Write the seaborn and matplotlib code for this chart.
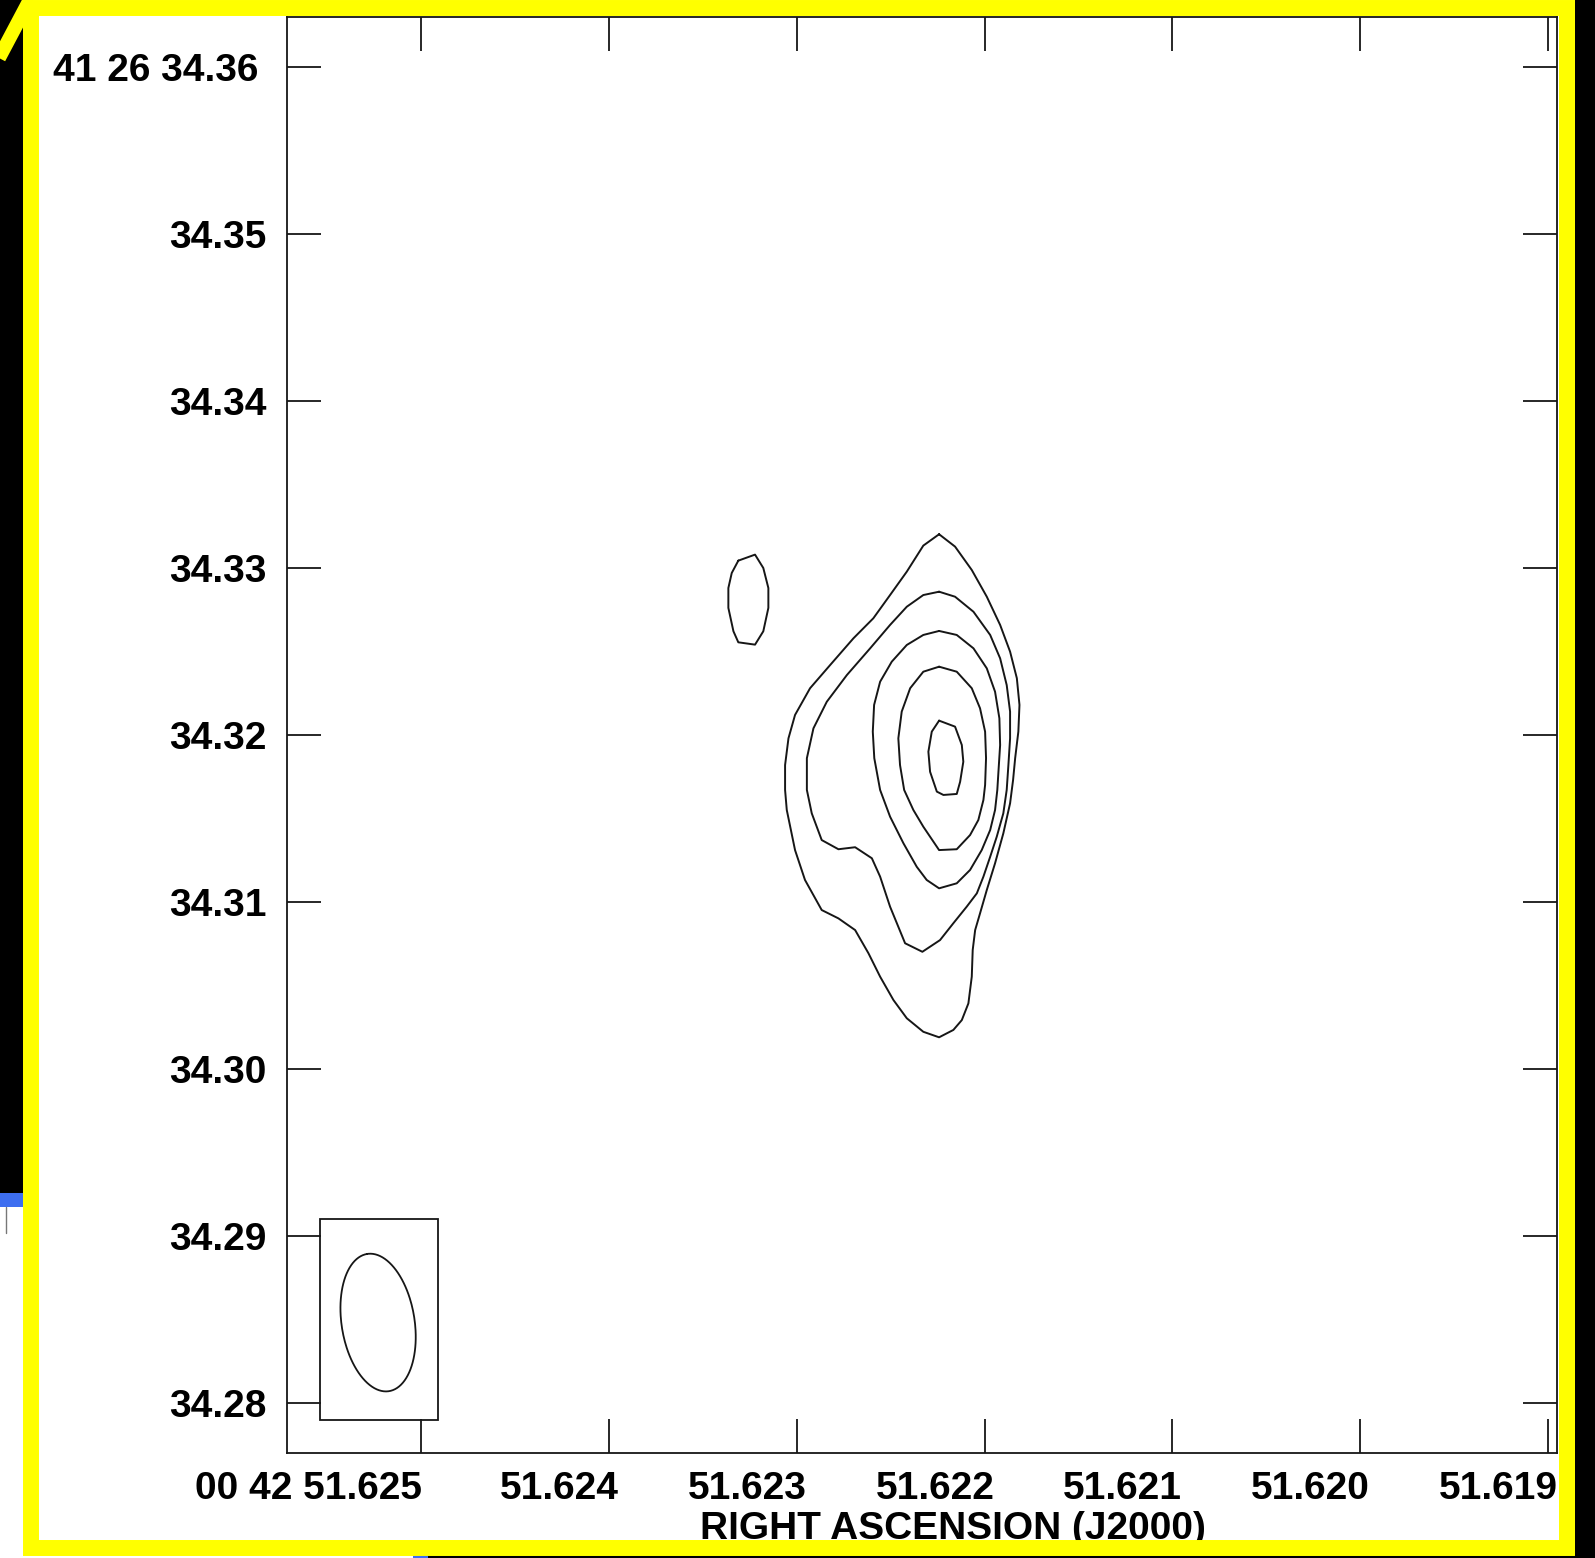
import numpy as np
import pandas as pd
import seaborn as sns
import matplotlib.pyplot as plt
from matplotlib.patches import Rectangle
from matplotlib.transforms import ScaledTranslation

# contour vertices
# RA in seconds of 00h42m, Dec in arcsec of +41d26m
knot_ra = [51.623311, 51.623222, 51.623178, 51.623151, 51.623151, 51.623178,
           51.623222, 51.623311, 51.623337, 51.623364, 51.623364, 51.623346]
knot_dec = [34.33044, 34.33080, 34.33000, 34.32880, 34.32761, 34.32621,
            34.32541, 34.32555, 34.32621, 34.32761, 34.32880, 34.32970]

lev1_ra = [51.622242, 51.622326, 51.622414, 51.622503, 51.622592, 51.622698,
           51.622822, 51.622929, 51.623009, 51.623044, 51.623062, 51.623062,
           51.623053, 51.623009, 51.622956, 51.622867, 51.622778, 51.622689,
           51.622618, 51.622556, 51.622485, 51.622414, 51.622326, 51.622242,
           51.622166, 51.622121, 51.622086, 51.622068, 51.622063, 51.622050,
           51.622024, 51.621988, 51.621944, 51.621900, 51.621864, 51.621848,
           51.621837, 51.621820, 51.621814, 51.621828, 51.621864, 51.621917,
           51.621988, 51.622068, 51.622157]
lev1_dec = [34.33202, 34.33134, 34.32978, 34.32838, 34.32699, 34.32579,
            34.32419, 34.32280, 34.32120, 34.31980, 34.31820, 34.31671,
            34.31551, 34.31311, 34.31132, 34.30952, 34.30902, 34.30832,
            34.30693, 34.30553, 34.30413, 34.30304, 34.30223, 34.30190,
            34.30234, 34.30293, 34.30393, 34.30553, 34.30713, 34.30832,
            34.30932, 34.31072, 34.31232, 34.31411, 34.31591, 34.31731,
            34.31861, 34.32020, 34.32180, 34.32340, 34.32499, 34.32659,
            34.32828, 34.32988, 34.33128]

lev2_ra = [51.622242, 51.622326, 51.622414, 51.622503, 51.622609, 51.622733,
           51.622840, 51.622911, 51.622946, 51.622946, 51.622920, 51.622867,
           51.622778, 51.622689, 51.622600, 51.622556, 51.622503, 51.622423,
           51.622331, 51.622237, 51.622166, 51.622095, 51.622041, 51.622006,
           51.621970, 51.621935, 51.621900, 51.621882, 51.621873, 51.621864,
           51.621864, 51.621882, 51.621917, 51.621970, 51.622059, 51.622157]
lev2_dec = [34.32858, 34.32838, 34.32768, 34.32659, 34.32519, 34.32359,
            34.32199, 34.32040, 34.31861, 34.31671, 34.31531, 34.31371,
            34.31316, 34.31328, 34.31262, 34.31152, 34.30972, 34.30753,
            34.30702, 34.30772, 34.30873, 34.30972, 34.31052, 34.31152,
            34.31271, 34.31391, 34.31531, 34.31671, 34.31820, 34.31980,
            34.32140, 34.32299, 34.32459, 34.32599, 34.32738, 34.32828]

lev3_ra = [51.622242, 51.622326, 51.622414, 51.622494, 51.622556, 51.622588,
           51.622595, 51.622587, 51.622556, 51.622503, 51.622432, 51.622361,
           51.622308, 51.622242, 51.622148, 51.622077, 51.622015, 51.621970,
           51.621944, 51.621932, 51.621926, 51.621917, 51.621921, 51.621944,
           51.621988, 51.622059, 51.622148]
lev3_dec = [34.32623, 34.32599, 34.32539, 34.32439, 34.32319, 34.32180,
            34.32020, 34.31861, 34.31671, 34.31511, 34.31352, 34.31211,
            34.31132, 34.31082, 34.31112, 34.31192, 34.31311, 34.31431,
            34.31551, 34.31671, 34.31780, 34.31940, 34.32100, 34.32259,
            34.32399, 34.32519, 34.32599]

lev4_ra = [51.622242, 51.622326, 51.622396, 51.622441, 51.622459, 51.622450,
           51.622428, 51.622379, 51.622326, 51.622242, 51.622148, 51.622077,
           51.622033, 51.622006, 51.621997, 51.621992, 51.621997, 51.622024,
           51.622068, 51.622148]
lev4_dec = [34.32409, 34.32379, 34.32280, 34.32140, 34.31980, 34.31820,
            34.31671, 34.31551, 34.31451, 34.31311, 34.31316, 34.31401,
            34.31491, 34.31611, 34.31701, 34.31861, 34.32020, 34.32160,
            34.32280, 34.32379]

lev5_ra = [51.622242, 51.622157, 51.622121, 51.622113, 51.622130, 51.622148,
           51.622219, 51.622254, 51.622290, 51.622299, 51.622281]
lev5_dec = [34.32086, 34.32050, 34.31940, 34.31840, 34.31720, 34.31647,
            34.31641, 34.31661, 34.31780, 34.31900, 34.32020]

ra_ticks = [51.625, 51.624, 51.623, 51.622, 51.621, 51.620, 51.619]
ra_labels = ["00 42 51.625", "51.624", "51.623", "51.622", "51.621", "51.620", "51.619"]
dec_ticks = [34.28, 34.29, 34.30, 34.31, 34.32, 34.33, 34.34, 34.35, 34.36]
dec_labels = ["34.28", "34.29", "34.30", "34.31", "34.32", "34.33", "34.34", "34.35", "41 26 34.36"]

# restoring beam (arcsec, arcsec, deg) and its box
beam_ra, beam_dec = 51.625229, 34.28482
beam_bmaj, beam_bmin, beam_pa = 0.00832, 0.00437, 9.0
box_ra = [51.625538, 51.624910]
box_dec = [34.27898, 34.29102]

contours = {
    "knot": (knot_ra, knot_dec),
    "lev1": (lev1_ra, lev1_dec),
    "lev2": (lev2_ra, lev2_dec),
    "lev3": (lev3_ra, lev3_dec),
    "lev4": (lev4_ra, lev4_dec),
    "lev5": (lev5_ra, lev5_dec),
}
frames = []
for name, (ra, dec) in contours.items():
    frames.append(pd.DataFrame({"ra": ra + ra[:1], "dec": dec + dec[:1], "contour": name}))
df = pd.concat(frames, ignore_index=True)

sns.set_theme(style="white")
plt.rcParams["font.family"] = ["Liberation Sans", "DejaVu Sans"]
plt.rcParams["font.weight"] = "bold"

W, H = 1595, 1558
fig = plt.figure(figsize=(W / 100, H / 100), dpi=100, facecolor="black")

# screenshot backdrop, in pixels
bg = fig.add_axes([0, 0, 1, 1], zorder=0)
bg.set_xlim(0, W)
bg.set_ylim(H, 0)
bg.axis("off")
bg.add_patch(Rectangle((23, 0), 1552, 1555, fc="white", ec="none"))
bg.add_patch(Rectangle((0, 1207), 23, 351, fc="white", ec="none"))
bg.add_patch(Rectangle((0, 1555), 413, 3, fc="white", ec="none"))
bg.add_patch(Rectangle((0, 1193), 23, 14, fc="#3d6ef0", ec="none"))
bg.add_patch(Rectangle((413, 1555), 15, 3, fc="#3d6ef0", ec="none"))
bg.plot([6, 6], [1207, 1233], color="#777777", lw=1)

ax = fig.add_axes([287 / W, 1 - 1453 / H, 1270 / W, 1436 / H], zorder=1)
ax.set_facecolor("white")

line_col = "#161616"
sns.lineplot(data=df, x="ra", y="dec", units="contour", estimator=None, sort=False,
             color=line_col, linewidth=1.4, ax=ax)

# beam ellipse + box
t = np.linspace(0, 2 * np.pi, 200)
pa = np.deg2rad(beam_pa)
u = beam_bmaj / 2 * np.cos(t)
v = beam_bmin / 2 * np.sin(t)
east = u * np.sin(pa) + v * np.cos(pa)
north = u * np.cos(pa) - v * np.sin(pa)
cosd = np.cos(np.deg2rad(41 + 26 / 60 + 34.32 / 3600))
ax.plot(beam_ra + east / (15 * cosd), beam_dec + north, color=line_col, lw=1.3)
ax.add_patch(Rectangle((box_ra[1], box_dec[0]), box_ra[0] - box_ra[1], box_dec[1] - box_dec[0],
                       fill=False, ec=line_col, lw=1.3))

ax.set_xlim(51.625714, 51.618952)
ax.set_ylim(34.27701, 34.36299)
ax.grid(False)

ax.set_xticks(ra_ticks)
ax.set_xticklabels(ra_labels, fontsize=28, fontweight="bold", ha="right")
ax.set_yticks(dec_ticks)
ax.set_yticklabels(dec_labels, fontsize=28, fontweight="bold")
ax.tick_params(axis="both", direction="in", length=24.5, width=1.3, color=line_col,
               top=True, right=True, bottom=True, left=True, labelcolor="black")
ax.tick_params(axis="x", pad=13)
ax.tick_params(axis="y", pad=14.4)
for s in ax.spines.values():
    s.set_linewidth(1.3)
    s.set_color(line_col)

for i, lbl in enumerate(ax.get_xticklabels()):
    dx = 1 if i == 0 else 10
    lbl.set_transform(lbl.get_transform() + ScaledTranslation(dx / 100, 0, fig.dpi_scale_trans))
top_lbl = ax.get_yticklabels()[-1]
top_lbl.set_transform(top_lbl.get_transform() + ScaledTranslation(-9 / 100, 0, fig.dpi_scale_trans))

ax.set_ylabel("")
ax.set_xlabel("RIGHT ASCENSION (J2000)", fontsize=28, fontweight="bold", color="black")
ax.xaxis.set_label_coords((952.5 - 287) / 1270, (1453 - 1511) / 1436)

# yellow highlight frame on top
fg = fig.add_axes([0, 0, 1, 1], zorder=2)
fg.set_xlim(0, W)
fg.set_ylim(H, 0)
fg.axis("off")
fg.add_patch(Rectangle((31, 8), 1536, 1539.5, fill=False, ec="#ffff00", lw=11.5, joinstyle="miter"))
fg.plot([-10, 35], [75, -10], color="#ffff00", lw=10, solid_capstyle="butt")

fig.savefig("out.png", dpi=100, facecolor=fig.get_facecolor())
